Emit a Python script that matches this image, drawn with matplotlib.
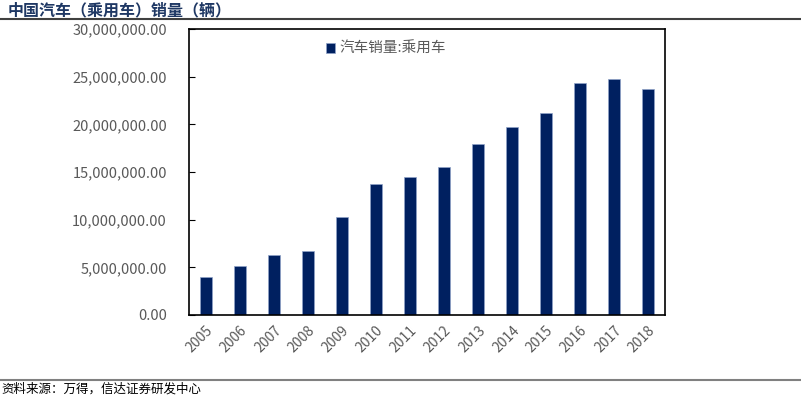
import matplotlib
matplotlib.use("Agg")
import matplotlib.pyplot as plt
from matplotlib.ticker import FuncFormatter

plt.rcParams['font.family'] = ['Noto Sans CJK SC', 'DejaVu Sans']

years = ['2005', '2006', '2007', '2008', '2009', '2010', '2011', '2012',
         '2013', '2014', '2015', '2016', '2017', '2018']
sales = [3970000, 5180000, 6300000, 6760000, 10330000, 13760000, 14470000,
         15500000, 17930000, 19700000, 21150000, 24380000, 24720000, 23710000]
series_name = '汽车销量:乘用车'
title = '中国汽车（乘用车）销量（辆）'
source = '资料来源：万得，信达证券研发中心'

fig = plt.figure(figsize=(8.01, 3.99), dpi=100)
ax = fig.add_axes([189/801, 1-315/399, (665-189)/801, (315-29)/399])

x = range(len(years))
ax.bar(x, sales, width=0.33, color='#002060', edgecolor='#8fa3c8', linewidth=0.5,
       label=series_name)
ax.set_xlim(-0.5, len(years)-0.5)
ax.set_ylim(0, 30000000)
ax.set_yticks(range(0, 30000001, 5000000))
ax.yaxis.set_major_formatter(FuncFormatter(lambda v, p: f'{v:,.2f}'))
ax.set_xticks(list(x))
ax.set_xticklabels(years, rotation=45, ha='right', rotation_mode='anchor')
ax.tick_params(axis='x', length=0, pad=6, labelsize=10, labelcolor='#595959')
ax.tick_params(axis='y', direction='in', length=4, labelsize=10.5, labelcolor='#595959', pad=16)
for s in ax.spines.values():
    s.set_color('black')
    s.set_linewidth(1.2)

ax.legend(loc='upper left', bbox_to_anchor=(0.26, 1.0), frameon=False,
          fontsize=10.5, handlelength=0.6, handleheight=0.6, handletextpad=0.3,
          labelcolor='#595959')

fig.text(0.01, 1-10/399, title, fontsize=11.5, fontweight='bold', color='#1f3864',
         va='center', ha='left')
fig.add_artist(plt.Line2D([0, 1], [1-19/399, 1-19/399], color='#404040', linewidth=1.5,
                          transform=fig.transFigure))
fig.add_artist(plt.Line2D([0, 1], [1-380/399, 1-380/399], color='#808080', linewidth=1.5,
                          transform=fig.transFigure))
fig.text(0.002, 1-389/399, source, fontsize=9, style='italic', color='black',
         va='center', ha='left')

fig.savefig('out.png', dpi=100)
